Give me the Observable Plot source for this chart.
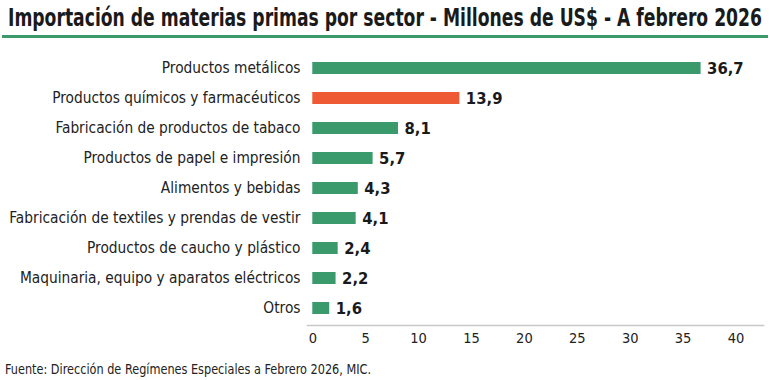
<!DOCTYPE html>
<html>
<head>
<meta charset="utf-8">
<script src="https://cdn.jsdelivr.net/npm/d3@7"></script>
<script src="https://cdn.jsdelivr.net/npm/@observablehq/plot@0.6"></script>
<style>
  html, body { margin: 0; padding: 0; background: #fff; }
  body { width: 770px; height: 380px; overflow: hidden; font-family: "DejaVu Sans", sans-serif; font-stretch: condensed; }
  #title { position: absolute; left: 8px; top: 3px; font-size: 25px; font-weight: bold; color: #1a1a1a; white-space: nowrap; transform-origin: 0 0; }
  #rule { position: absolute; left: 2px; top: 35px; width: 766px; height: 3px; background: #3a9a6c; }
  #chart { position: absolute; left: 0; top: 40px; }
  #caption { position: absolute; left: 5px; top: 361px; font-size: 14px; color: #222; white-space: nowrap; transform-origin: 0 0; }
</style>
</head>
<body>
<div id="title">Importación de materias primas por sector - Millones de US$ - A febrero 2026</div>
<div id="rule"></div>
<div id="chart"></div>
<div id="caption">Fuente: Dirección de Regímenes Especiales a Febrero 2026, MIC.</div>
<script>
const sectors = [
  "Productos metálicos",
  "Productos químicos y farmacéuticos",
  "Fabricación de productos de tabaco",
  "Productos de papel e impresión",
  "Alimentos y bebidas",
  "Fabricación de textiles y prendas de vestir",
  "Productos de caucho y plástico",
  "Maquinaria, equipo y aparatos eléctricos",
  "Otros"
];
const values = [36.7, 13.9, 8.1, 5.7, 4.3, 4.1, 2.4, 2.2, 1.6];
const highlight = "Productos químicos y farmacéuticos";
const xTicks = [0, 5, 10, 15, 20, 25, 30, 35, 40];

const data = sectors.map((s, i) => ({sector: s, value: values[i]}));
const fmt = v => v.toFixed(1).replace(".", ",");

const chart = Plot.plot({
  width: 770,
  height: 307,
  marginTop: 11,
  marginBottom: 22,
  marginLeft: 307,
  marginRight: 7,
  style: {fontFamily: '"DejaVu Sans", sans-serif', fontStretch: "condensed", fontSize: "15.3px", color: "#222", background: "#fff"},
  x: {domain: [-0.5, 42.6], ticks: xTicks, tickFormat: d => String(d), tickSize: 0, tickPadding: 7, label: null},
  y: {domain: sectors, paddingInner: 0.6, paddingOuter: 0.3, tickSize: 0, tickPadding: 7, label: null},
  marks: [
    Plot.frame({anchor: "bottom", stroke: "#c8c8c8", strokeWidth: 1.5}),
    Plot.barX(data, {y: "sector", x1: 0, x2: "value", fill: d => d.sector === highlight ? "#ee5a33" : "#3a9a6c"}),
    Plot.text(data, {y: "sector", x: "value", text: d => fmt(d.value), textAnchor: "start", dx: 6, fontWeight: "bold", fontSize: 16.5, fill: "#1a1a1a"})
  ]
});
chart.querySelectorAll('[aria-label="x-axis tick label"] text').forEach(t => t.style.fontSize = "14.5px");
document.getElementById("chart").appendChild(chart);

// fit title and caption horizontally to the reference widths
function fit(id, w) {
  const el = document.getElementById(id);
  const cur = el.getBoundingClientRect().width;
  el.style.transform = `scaleX(${w / cur})`;
}
fit("title", 754);
fit("caption", 366);
</script>
</body>
</html>
